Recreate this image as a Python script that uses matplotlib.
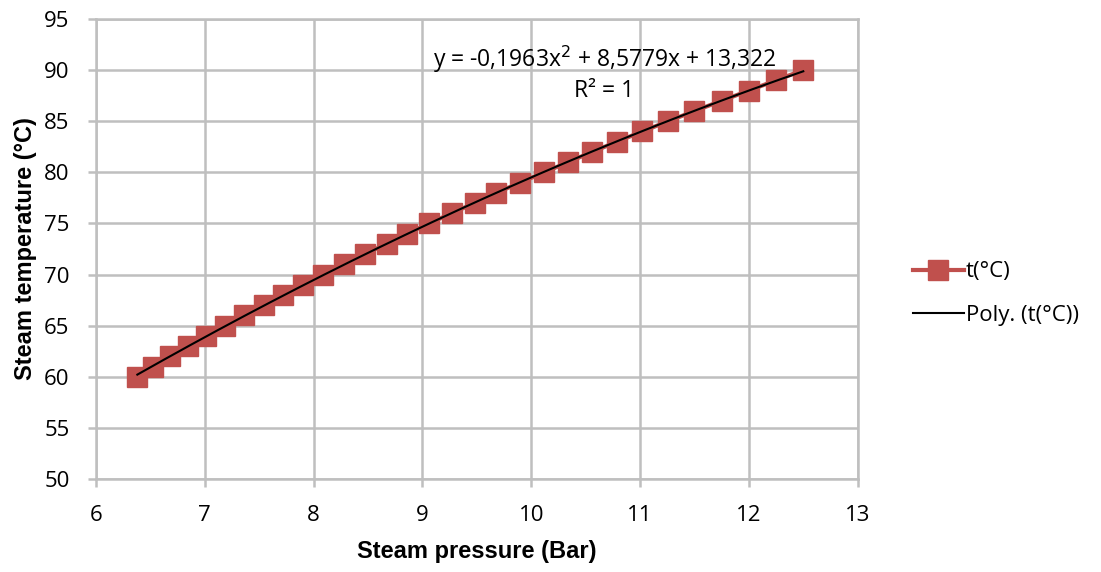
import numpy as np
import matplotlib.pyplot as plt
from matplotlib.lines import Line2D

# steam pressure (Bar) vs temperature (°C)
pressure = [6.38, 6.52, 6.68, 6.85, 7.01, 7.19, 7.36, 7.54, 7.72, 7.90,
            8.09, 8.28, 8.47, 8.67, 8.86, 9.06, 9.27, 9.48, 9.68, 9.90,
            10.12, 10.34, 10.56, 10.79, 11.02, 11.26, 11.50, 11.75, 12.00,
            12.25, 12.50]
temperature = list(range(60, 91))

x_ticks = [6, 7, 8, 9, 10, 11, 12, 13]
y_ticks = [50, 55, 60, 65, 70, 75, 80, 85, 90, 95]

red = '#C0504D'
grid_col = '#BFBFBF'
tick_font = 'Open Sans'

fig = plt.figure(figsize=(11.01, 5.72), dpi=100)
ax = fig.add_axes([0.0872, 0.1626, 0.779 - 0.0872, 0.9668 - 0.1626])

ax.plot(pressure, temperature, color=red, lw=3, marker='s', ms=14,
        mfc=red, mec=red, zorder=3)

coef = np.polyfit(pressure, temperature, 2)
xs = np.linspace(min(pressure), max(pressure), 200)
ax.plot(xs, np.polyval(coef, xs), color='black', lw=1.5, zorder=4)

ax.set_xlim(6, 13)
ax.set_ylim(50, 95)
ax.set_xticks(x_ticks)
ax.set_yticks(y_ticks)
ax.grid(True, color=grid_col, lw=1.8)
ax.set_axisbelow(True)
for s in ax.spines.values():
    s.set_color(grid_col)
    s.set_linewidth(1.8)
ax.tick_params(colors=grid_col, length=6, width=1.8, direction='out',
               labelcolor='black', labelsize=16)
ax.tick_params(axis='x', pad=13)
ax.tick_params(axis='y', pad=13)
for lab in ax.get_xticklabels() + ax.get_yticklabels():
    lab.set_fontfamily(tick_font)

ax.set_xlabel('Steam pressure (Bar)', fontsize=17, fontweight='bold',
              family='Liberation Sans', labelpad=10)
ax.set_ylabel('Steam temperature (°C)', fontsize=17, fontweight='bold',
              family='Liberation Sans', labelpad=5)

ax.text(0.668, 0.913, 'y = -0,1963x$^2$ + 8,5779x + 13,322',
        transform=ax.transAxes, ha='center', va='center', fontsize=16.5,
        family=tick_font)
ax.text(0.667, 0.843, 'R² = 1', transform=ax.transAxes, ha='center',
        va='center', fontsize=16.5, family=tick_font)

handles = [Line2D([], [], color=red, lw=3, marker='s', ms=14, mfc=red, mec=red),
           Line2D([], [], color='black', lw=1.5)]
fig.legend(handles, ['t(°C)', 'Poly. (t(°C))'], loc='center left',
           bbox_to_anchor=(0.829, 0.487), frameon=False, borderpad=0,
           borderaxespad=0,
           prop={'family': tick_font, 'size': 16}, handlelength=2.3,
           handletextpad=0.1, labelspacing=1.0)

fig.savefig('out.png', dpi=100)
